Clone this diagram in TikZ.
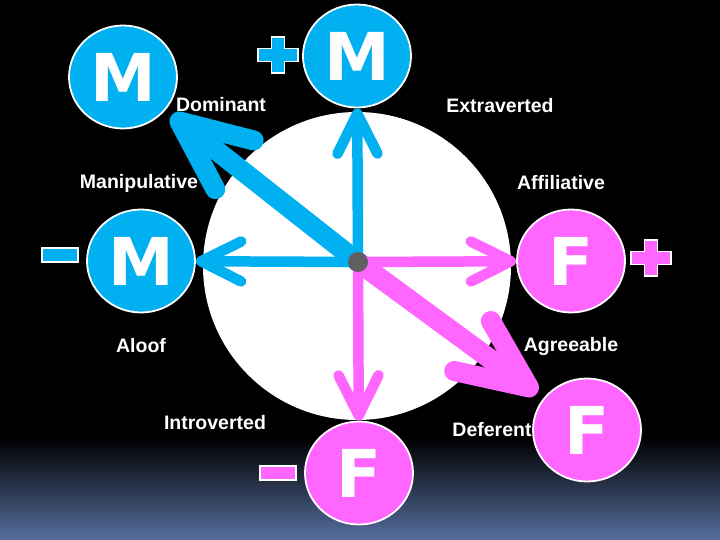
\documentclass[tikz,border=0pt]{standalone}
\usepackage{fontspec}
\setmainfont{Liberation Sans}
\newfontfamily\bigletterfont{DejaVu Sans}
\usetikzlibrary{arrows.meta,shapes.geometric}
\definecolor{mblue}{RGB}{0,176,240}
\definecolor{fpink}{RGB}{255,102,255}
\definecolor{dotgrey}{RGB}{96,96,96}
\definecolor{bottomblue}{RGB}{86,110,158}
\begin{document}
\begin{tikzpicture}[x=1pt,y=-1pt,
  letternode/.style={ellipse, draw=white, line width=1.8pt, minimum width=108pt, minimum height=103pt, inner sep=0pt, text=white, font=\bigletterfont\bfseries\fontsize{66}{66}\selectfont},
  mnode/.style={letternode, fill=mblue},
  fnode/.style={letternode, fill=fpink},
  lbl/.style={text=white, inner sep=0pt, font=\bfseries\fontsize{19.5}{20}\selectfont},
  thinarrow/.style={line width=10.5pt, -{Straight Barb[length=40pt,width=40pt,round]}},
  thickarrow/.style={line width=20pt, -{Straight Barb[length=70pt,width=62pt,round]}, shorten >=8pt},
  pics/plusmark/.style={code={\filldraw[draw=white,line width=1.5pt,fill=#1] (-6.5,-18) -- (6.5,-18) -- (6.5,-6.5) -- (20,-6.5) -- (20,6.5) -- (6.5,6.5) -- (6.5,18) -- (-6.5,18) -- (-6.5,6.5) -- (-20,6.5) -- (-20,-6.5) -- (-6.5,-6.5) -- cycle;}},
  pics/minusmark/.style={code={\filldraw[draw=white,line width=1.5pt,fill=#1] (-18,-7) rectangle (18,7);}}
]
\useasboundingbox (0,0) rectangle (720,540);
\fill[black] (0,0) rectangle (720,540);
\shade[top color=black, bottom color=bottomblue] (0,438) rectangle (720,540);

% big white circle
\fill[white] (357,266) circle[radius=154];

% letter circles
\node[mnode] (mtl) at (123,77) {M};
\node[mnode] (mtop) at (357,56) {M};
\node[mnode] (mleft) at (141,261) {M};
\node[fnode] (fright) at (571,261) {F};
\node[fnode] (fbot) at (359,473) {F};
\node[fnode] (fbr) at (587,430) {F};

\coordinate (c) at (358,262);

% arrows
\draw[mblue, thickarrow] (c) -- (mtl);
\draw[mblue, thinarrow] (c) -- (mtop);
\draw[mblue, thinarrow] (c) -- (mleft);
\draw[fpink, thickarrow] (c) -- (fbr);
\draw[fpink, thinarrow] (c) -- (fright);
\draw[fpink, thinarrow] (c) -- (fbot);

\fill[dotgrey] (c) circle[radius=10];

% plus / minus marks
\pic at (278,55) {plusmark=mblue};
\pic at (651,258) {plusmark=fpink};
\pic at (60,255) {minusmark=mblue};
\pic at (278,473) {minusmark=fpink};

% labels
\node[lbl] (tdom) at (221,105) {Dominant};
\node[lbl] (text) at (500,106) {Extraverted};
\node[lbl] (tman) at (139,183) {Manipulative};
\node[lbl] (taff) at (561,183) {Affiliative};
\node[lbl] (talo) at (141,346) {Aloof};
\node[lbl] (tagr) at (571,346) {Agreeable};
\node[lbl] (tint) at (215,423) {Introverted};
\node[lbl] (tdef) at (492,430) {Deferent};
\end{tikzpicture}
\end{document}
